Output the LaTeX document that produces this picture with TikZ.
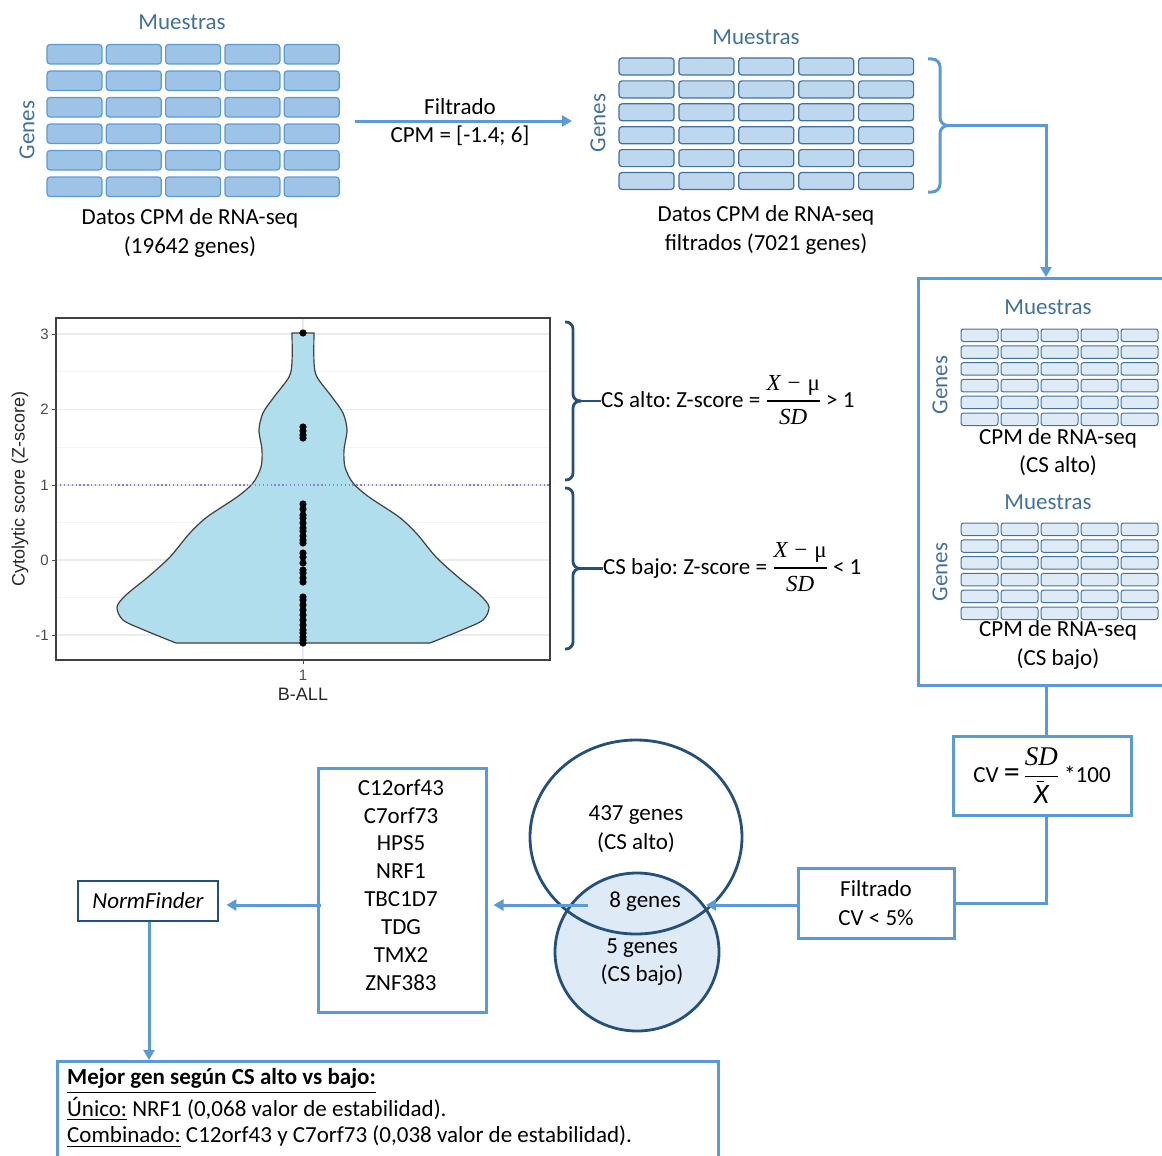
\documentclass[tikz,border=0pt]{standalone}
\usepackage{fontspec}
\usepackage{amsmath}
\setmainfont{Carlito}
\newfontfamily\arialf{Liberation Sans}
\newfontfamily\serifm{Liberation Serif}
\usetikzlibrary{arrows.meta,shapes.geometric}
\definecolor{lb}{HTML}{5B9BD5}
\definecolor{db}{HTML}{24507C}
\definecolor{tb}{HTML}{41719C}
\definecolor{cA}{HTML}{9DC3E6}
\definecolor{cB}{HTML}{BDD7EE}
\definecolor{cC}{HTML}{DEEBF7}
\definecolor{vio}{HTML}{B0DEEC}
\definecolor{ggrid}{HTML}{EBEBEB}
\definecolor{gtxt}{HTML}{4D4D4D}
\definecolor{dotl}{HTML}{8E82C8}
\frenchspacing
\newcommand{\zfrac}{$\genfrac{}{}{1.2pt}{0}{\mbox{\serifm\itshape X}\;\mbox{\serifm −}\;\mbox{\serifm μ}}{\mbox{\serifm\itshape SD}}$}
\tikzset{
  lbl/.style={font=\fontsize{23}{28.5}\selectfont, align=center, inner sep=0pt},
  hdr/.style={lbl, text=tb},
  conn/.style={draw=lb, line width=3pt},
  arr/.style={conn, -{Triangle[length=10pt,width=11pt]}},
  box/.style={draw=lb, line width=3pt, inner sep=0pt},
  cellA/.style={fill=cA, draw=lb, line width=1.2pt, rounded corners=3pt},
  cellB/.style={fill=cB, draw=tb, line width=1.2pt, rounded corners=3pt},
  cellC/.style={fill=cC, draw=tb, line width=1pt, rounded corners=2.5pt},
  axl/.style={font=\arialf\fontsize{18}{20}\selectfont, inner sep=0pt, text=black!85},
  tickl/.style={font=\arialf\fontsize{15}{17}\selectfont, inner sep=0pt, text=gtxt},
  dbr/.style={draw=db, line width=2.8pt, rounded corners=7pt},
  lbr/.style={draw=lb, line width=3pt, rounded corners=8pt},
}
\begin{document}
\begin{tikzpicture}[x=1pt,y=-1pt]
\useasboundingbox (0,0) rectangle (1162,1156);
\clip (0,0) rectangle (1162,1156);

% ---------- top-left grid ----------
\foreach \i in {0,...,4} \foreach \j in {0,...,5}
  \draw[cellA] ({47+59.3*\i},{44.5+26.5*\j}) rectangle ++(55,19.5);
\node[hdr] (m1) at (182,22) {Muestras};
\node[hdr, rotate=90] (g1) at (27,130) {Genes};
\node[lbl] (d1) at (190,233) {Datos CPM de RNA-seq\\(19642 genes)};

% ---------- filter arrow ----------
\coordinate (a1s) at (355,121);
\coordinate (a1e) at (572,121);
\draw[arr, line width=3pt] (a1s) -- (a1e);
\node[lbl] (f1) at (460,122) {Filtrado\\CPM = [-1.4; 6]};

% ---------- top-right grid ----------
\foreach \i in {0,...,4} \foreach \j in {0,...,5}
  \draw[cellB] ({619+59.9*\i},{58+22.9*\j}) rectangle ++(55,17);
\node[hdr] (m2) at (756,37) {Muestras};
\node[hdr, rotate=90] (g2) at (598,123) {Genes};
\node[lbl] (d2) at (766,230) {Datos CPM de RNA-seq\\filtrados (7021 genes)};
\coordinate (brtip) at (948,125.5);
\draw[lbr] (928,59) -- (940,59) -- (940,125.5) -- (brtip);
\draw[lbr] (928,192) -- (940,192) -- (940,125.5) -- (brtip);

% ---------- right box ----------
\node[box, anchor=north west, minimum width=262, minimum height=407] (rbox) at (917,277) {};
\foreach \i in {0,...,4} \foreach \j in {0,...,5}
  \draw[cellC] ({961+40*\i},{329+16.8*\j}) rectangle ++(37,12.5);
\foreach \i in {0,...,4} \foreach \j in {0,...,5}
  \draw[cellC] ({961+40*\i},{523+16.8*\j}) rectangle ++(37,12.5);
\node[hdr] (m3) at (1048,307) {Muestras};
\node[hdr, rotate=90] (g3) at (940,385) {Genes};
\node[lbl] (c3) at (1058,452) {CPM de RNA-seq\\(CS alto)};
\node[hdr] (m4) at (1048,502) {Muestras};
\node[hdr, rotate=90] (g4) at (940,572) {Genes};
\node[lbl] (c4) at (1058,645) {CPM de RNA-seq\\(CS bajo)};
\draw[arr] (brtip) -| (rbox.north -| 1046,0);

% ---------- CV box ----------
\node[box, minimum width=178, minimum height=79] (cv) at (1042,775.5)
  {\fontsize{23}{28}\selectfont CV {\fontsize{32}{32}\selectfont =}\,%
   $\genfrac{}{}{1.3pt}{0}{\mbox{\fontsize{27}{27}\selectfont\serifm\itshape SD}}{\mbox{\fontsize{28}{28}\selectfont\itshape X\llap{\raisebox{21pt}{\rule{7pt}{1.6pt}}\hspace{5pt}}}}$\ *100};
\node[box, minimum width=156, minimum height=70, font=\fontsize{23}{29}\selectfont, align=center] (fb) at (876,903) {Filtrado\\CV < 5\%};
\draw[conn] (rbox.south -| 1046,0) -- (1046,0 |- cv.north);
\draw[conn] (1046,0 |- cv.south) |- (fb.east);

% ---------- Venn ----------
\node[ellipse, draw=db, line width=2.8pt, fill=cC, minimum width=164, minimum height=158, inner sep=0pt] (vb) at (637,952) {};
\node[ellipse, draw=db, line width=2.8pt, minimum width=212, minimum height=194, inner sep=0pt] (va) at (636,837) {};
\node[lbl] (va1) at (636,829) {437 genes\\(CS alto)};
\node[lbl] (v8) at (645,902) {8 genes};
\node[lbl] (vb1) at (642,962) {5 genes\\(CS bajo)};
\coordinate (vtip) at (706,905);
\coordinate (vstart) at (588,905);
\draw[arr] (fb.west |- vtip) -- (vtip);

% ---------- gene list ----------
\node[box, minimum width=168, minimum height=244] (gl) at (402,890) {};
\node[lbl, font=\fontsize{23}{27.9}\selectfont] (glt) at (401,885)
  {C12orf43\\C7orf73\\HPS5\\NRF1\\TBC1D7\\TDG\\TMX2\\ZNF383};
\draw[arr, shorten >=6pt] (vstart) -- (gl.east |- vstart);

% ---------- NormFinder ----------
\node[draw=db, line width=2.8pt, minimum width=140, minimum height=40, inner sep=0pt, font=\fontsize{23}{28}\selectfont\itshape] (nf) at (148,901) {NormFinder};
\draw[arr, shorten >=7pt] ([xshift=4pt]gl.west |- 0,905) -- (nf.east |- 0,905);

% ---------- bottom box ----------
\node[box, anchor=north west, minimum width=661, minimum height=130] (bb) at (56,1060) {};
\draw[arr] (nf.south -| 149,0) -- (149,0 |- bb.north);
\node[lbl, anchor=west] (t1) at (67,1081) {\bfseries\underline{Mejor gen según CS alto vs bajo:}};
\node[lbl, anchor=west] (t2) at (67,1109) {\underline{Único:} NRF1 (0,068 valor de estabilidad).};
\node[lbl, anchor=west] (t3) at (67,1137) {\underline{Combinado:} C12orf43 y C7orf73 (0,038 valor de estabilidad).};

% ---------- violin plot ----------
\foreach \y in {371.75,447.25,522.5,597.5}
  \draw[ggrid!60, line width=0.6pt] (56,\y) -- (550,\y);
\foreach \y in {334,409.5,485,560,635}
  \draw[ggrid, line width=1.2pt] (56,\y) -- (550,\y);
\draw[ggrid, line width=1.2pt] (303,318) -- (303,660);
\draw[fill=vio, draw=black!75, line width=1.2pt]
  (292,333) -- (314,333)
  -- plot[smooth, tension=0.5] coordinates {(314,333) (314,362) (317,377) (332,397) (343,413) (347,430) (344,450) (345,467) (353,483) (369,497) (399,517) (417,534) (436,557) (458,577) (480,595) (489,607) (483,620) (462,630) (430,643)}
  -- (176,643)
  -- plot[smooth, tension=0.5] coordinates {(176,643) (144,630) (123,620) (117,607) (126,595) (148,577) (170,557) (189,534) (207,517) (237,497) (253,483) (261,467) (262,450) (259,430) (263,413) (274,397) (289,377) (292,362) (292,333)}
  -- cycle;
\draw[dotl, line width=1.3pt, dash pattern=on 1.3pt off 2.6pt] (56,485) -- (550,485);
\foreach \y in {333,427,431,435,438,504,509,515,518,523,528,531,536,540,543,553,557,563,570,573,578,582,597,600,605,610,615,620,625,630,633,637,640,643}
  \fill[black] (303,\y) circle (3.6pt);
\draw[black!75, line width=1.1pt] (56,318) rectangle (550,660);
\foreach \y/\l in {334/3,409.5/2,485/1,560/0,635/-1} {
  \draw[black!70, line width=1pt] (52,\y) -- (56,\y);
  \node[tickl, anchor=east] (yl\l) at (49,\y) {\l};
}
\draw[black!70, line width=1pt] (303,660) -- (303,664);
\node[tickl] (xl1) at (303,675) {1};
\node[axl] (xtitle) at (303,694) {B-ALL};
\node[axl, rotate=90] (ytitle) at (20,489) {Cytolytic score (Z-score)};

% ---------- violin braces ----------
\coordinate (b1tip) at (581,401);
\coordinate (b2tip) at (581,568.5);
\draw[dbr] (565,322) -- (573,322) -- (573,401) -- (b1tip);
\draw[dbr] (565,480) -- (573,480) -- (573,401) -- (b1tip);
\draw[dbr] (565,488) -- (573,488) -- (573,568.5) -- (b2tip);
\draw[dbr] (565,649) -- (573,649) -- (573,568.5) -- (b2tip);
\node[lbl, anchor=west] (csa) at (601,400) {CS alto: Z-score = \zfrac\ > 1};
\node[lbl, anchor=west] (csb) at (603,567) {CS bajo: Z-score = \zfrac\ < 1};
\draw[db, line width=2.8pt] (b1tip) -- (csa.west |- b1tip);
\draw[db, line width=2.8pt] (b2tip) -- (csb.west |- b2tip);
\end{tikzpicture}
\end{document}
